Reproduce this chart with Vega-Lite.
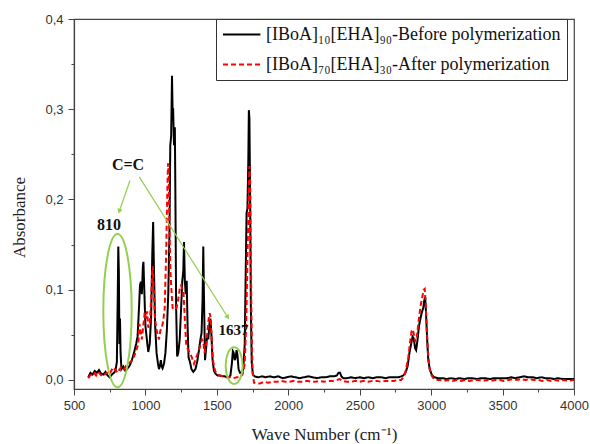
{
  "$schema": "https://vega.github.io/schema/vega-lite/v6.json",
  "width": 500,
  "height": 370,
  "autosize": {"type": "none"},
  "padding": {"left": 74, "top": 19, "right": 16, "bottom": 55},
  "background": "white",
  "config": {
    "view": {"stroke": "#444", "strokeWidth": 1.2},
    "axis": {"grid": false, "domainColor": "#444", "tickColor": "#444", "domainWidth": 1.2, "labelFont": "Liberation Sans", "labelFontSize": 13, "labelColor": "#333", "titleFont": "Liberation Serif", "titleFontSize": 17, "titleFontWeight": "normal", "titleColor": "#222"}
  },
  "data": {"values": [
    {"s":"a","x":600,"y":0.003},{"s":"a","x":615,"y":0.008},{"s":"a","x":630,"y":0.006},{"s":"a","x":645,"y":0.010},{"s":"a","x":660,"y":0.008},{"s":"a","x":675,"y":0.011},{"s":"a","x":690,"y":0.007},{"s":"a","x":705,"y":0.006},{"s":"a","x":720,"y":0.009},{"s":"a","x":735,"y":0.005},{"s":"a","x":750,"y":0.003},{"s":"a","x":765,"y":0.006},{"s":"a","x":780,"y":0.008},{"s":"a","x":790,"y":0.010},{"s":"a","x":800,"y":0.020},{"s":"a","x":806,"y":0.090},{"s":"a","x":810,"y":0.148},{"s":"a","x":814,"y":0.120},{"s":"a","x":818,"y":0.040},{"s":"a","x":822,"y":0.068},{"s":"a","x":826,"y":0.030},{"s":"a","x":832,"y":0.012},{"s":"a","x":845,"y":0.015},{"s":"a","x":860,"y":0.010},{"s":"a","x":875,"y":0.013},{"s":"a","x":890,"y":0.016},{"s":"a","x":905,"y":0.022},{"s":"a","x":920,"y":0.030},{"s":"a","x":935,"y":0.040},{"s":"a","x":945,"y":0.048},{"s":"a","x":955,"y":0.080},{"s":"a","x":962,"y":0.105},{"s":"a","x":968,"y":0.109},{"s":"a","x":975,"y":0.095},{"s":"a","x":982,"y":0.125},{"s":"a","x":986,"y":0.131},{"s":"a","x":992,"y":0.100},{"s":"a","x":1000,"y":0.060},{"s":"a","x":1010,"y":0.045},{"s":"a","x":1020,"y":0.031},{"s":"a","x":1030,"y":0.040},{"s":"a","x":1040,"y":0.070},{"s":"a","x":1048,"y":0.140},{"s":"a","x":1054,"y":0.175},{"s":"a","x":1060,"y":0.120},{"s":"a","x":1068,"y":0.060},{"s":"a","x":1078,"y":0.030},{"s":"a","x":1088,"y":0.018},{"s":"a","x":1095,"y":0.012},{"s":"a","x":1102,"y":0.016},{"s":"a","x":1108,"y":0.022},{"s":"a","x":1114,"y":0.015},{"s":"a","x":1120,"y":0.013},{"s":"a","x":1130,"y":0.018},{"s":"a","x":1140,"y":0.030},{"s":"a","x":1150,"y":0.055},{"s":"a","x":1160,"y":0.096},{"s":"a","x":1168,"y":0.160},{"s":"a","x":1174,"y":0.260},{"s":"a","x":1180,"y":0.270},{"s":"a","x":1186,"y":0.337},{"s":"a","x":1190,"y":0.300},{"s":"a","x":1194,"y":0.300},{"s":"a","x":1200,"y":0.260},{"s":"a","x":1206,"y":0.280},{"s":"a","x":1210,"y":0.200},{"s":"a","x":1215,"y":0.080},{"s":"a","x":1222,"y":0.026},{"s":"a","x":1230,"y":0.030},{"s":"a","x":1240,"y":0.045},{"s":"a","x":1250,"y":0.080},{"s":"a","x":1258,"y":0.110},{"s":"a","x":1265,"y":0.120},{"s":"a","x":1270,"y":0.153},{"s":"a","x":1276,"y":0.110},{"s":"a","x":1282,"y":0.095},{"s":"a","x":1289,"y":0.110},{"s":"a","x":1295,"y":0.060},{"s":"a","x":1302,"y":0.025},{"s":"a","x":1312,"y":0.020},{"s":"a","x":1322,"y":0.012},{"s":"a","x":1335,"y":0.009},{"s":"a","x":1350,"y":0.012},{"s":"a","x":1362,"y":0.020},{"s":"a","x":1372,"y":0.030},{"s":"a","x":1385,"y":0.045},{"s":"a","x":1393,"y":0.052},{"s":"a","x":1400,"y":0.090},{"s":"a","x":1405,"y":0.148},{"s":"a","x":1410,"y":0.090},{"s":"a","x":1417,"y":0.022},{"s":"a","x":1425,"y":0.035},{"s":"a","x":1432,"y":0.050},{"s":"a","x":1440,"y":0.045},{"s":"a","x":1448,"y":0.062},{"s":"a","x":1455,"y":0.068},{"s":"a","x":1462,"y":0.050},{"s":"a","x":1470,"y":0.022},{"s":"a","x":1480,"y":0.010},{"s":"a","x":1490,"y":0.007},{"s":"a","x":1505,"y":0.005},{"s":"a","x":1520,"y":0.005},{"s":"a","x":1540,"y":0.004},{"s":"a","x":1555,"y":0.004},{"s":"a","x":1570,"y":0.003},{"s":"a","x":1585,"y":0.003},{"s":"a","x":1595,"y":0.005},{"s":"a","x":1605,"y":0.018},{"s":"a","x":1612,"y":0.032},{"s":"a","x":1618,"y":0.030},{"s":"a","x":1625,"y":0.022},{"s":"a","x":1632,"y":0.025},{"s":"a","x":1638,"y":0.033},{"s":"a","x":1644,"y":0.028},{"s":"a","x":1652,"y":0.012},{"s":"a","x":1662,"y":0.008},{"s":"a","x":1675,"y":0.008},{"s":"a","x":1685,"y":0.012},{"s":"a","x":1695,"y":0.040},{"s":"a","x":1702,"y":0.120},{"s":"a","x":1708,"y":0.185},{"s":"a","x":1714,"y":0.190},{"s":"a","x":1720,"y":0.240},{"s":"a","x":1724,"y":0.299},{"s":"a","x":1728,"y":0.290},{"s":"a","x":1733,"y":0.200},{"s":"a","x":1738,"y":0.080},{"s":"a","x":1744,"y":0.020},{"s":"a","x":1752,"y":0.006},{"s":"a","x":1765,"y":0.004},{"s":"a","x":1790,"y":0.003},{"s":"a","x":1815,"y":0.004},{"s":"a","x":1840,"y":0.003},{"s":"a","x":1870,"y":0.004},{"s":"a","x":1900,"y":0.003},{"s":"a","x":1930,"y":0.004},{"s":"a","x":1960,"y":0.002},{"s":"a","x":1990,"y":0.003},{"s":"a","x":2020,"y":0.004},{"s":"a","x":2050,"y":0.003},{"s":"a","x":2080,"y":0.002},{"s":"a","x":2110,"y":0.003},{"s":"a","x":2140,"y":0.004},{"s":"a","x":2170,"y":0.003},{"s":"a","x":2200,"y":0.002},{"s":"a","x":2230,"y":0.003},{"s":"a","x":2260,"y":0.003},{"s":"a","x":2290,"y":0.004},{"s":"a","x":2320,"y":0.004},{"s":"a","x":2340,"y":0.005},{"s":"a","x":2352,"y":0.008},{"s":"a","x":2362,"y":0.008},{"s":"a","x":2372,"y":0.004},{"s":"a","x":2385,"y":0.002},{"s":"a","x":2410,"y":0.002},{"s":"a","x":2440,"y":0.003},{"s":"a","x":2470,"y":0.002},{"s":"a","x":2500,"y":0.003},{"s":"a","x":2530,"y":0.002},{"s":"a","x":2560,"y":0.003},{"s":"a","x":2590,"y":0.002},{"s":"a","x":2620,"y":0.003},{"s":"a","x":2650,"y":0.003},{"s":"a","x":2680,"y":0.002},{"s":"a","x":2710,"y":0.003},{"s":"a","x":2740,"y":0.003},{"s":"a","x":2770,"y":0.003},{"s":"a","x":2790,"y":0.004},{"s":"a","x":2805,"y":0.005},{"s":"a","x":2820,"y":0.008},{"s":"a","x":2835,"y":0.015},{"s":"a","x":2848,"y":0.030},{"s":"a","x":2860,"y":0.040},{"s":"a","x":2870,"y":0.048},{"s":"a","x":2878,"y":0.046},{"s":"a","x":2888,"y":0.035},{"s":"a","x":2895,"y":0.033},{"s":"a","x":2905,"y":0.045},{"s":"a","x":2915,"y":0.060},{"s":"a","x":2925,"y":0.068},{"s":"a","x":2935,"y":0.075},{"s":"a","x":2945,"y":0.080},{"s":"a","x":2952,"y":0.088},{"s":"a","x":2958,"y":0.092},{"s":"a","x":2964,"y":0.075},{"s":"a","x":2972,"y":0.045},{"s":"a","x":2980,"y":0.022},{"s":"a","x":2990,"y":0.012},{"s":"a","x":3004,"y":0.006},{"s":"a","x":3020,"y":0.003},{"s":"a","x":3050,"y":0.002},{"s":"a","x":3080,"y":0.002},{"s":"a","x":3110,"y":0.001},{"s":"a","x":3140,"y":0.002},{"s":"a","x":3170,"y":0.001},{"s":"a","x":3200,"y":0.002},{"s":"a","x":3230,"y":0.001},{"s":"a","x":3260,"y":0.002},{"s":"a","x":3290,"y":0.002},{"s":"a","x":3320,"y":0.001},{"s":"a","x":3350,"y":0.002},{"s":"a","x":3380,"y":0.002},{"s":"a","x":3410,"y":0.001},{"s":"a","x":3440,"y":0.002},{"s":"a","x":3470,"y":0.002},{"s":"a","x":3500,"y":0.002},{"s":"a","x":3530,"y":0.002},{"s":"a","x":3560,"y":0.003},{"s":"a","x":3590,"y":0.002},{"s":"a","x":3620,"y":0.003},{"s":"a","x":3650,"y":0.004},{"s":"a","x":3680,"y":0.003},{"s":"a","x":3710,"y":0.003},{"s":"a","x":3740,"y":0.002},{"s":"a","x":3770,"y":0.003},{"s":"a","x":3800,"y":0.002},{"s":"a","x":3830,"y":0.002},{"s":"a","x":3860,"y":0.001},{"s":"a","x":3890,"y":0.002},{"s":"a","x":3920,"y":0.001},{"s":"a","x":3950,"y":0.001},{"s":"a","x":3980,"y":0.001},{"s":"a","x":4000,"y":0.001},
    {"s":"b","x":600,"y":0.002},{"s":"b","x":612,"y":0.005},{"s":"b","x":625,"y":0.006},{"s":"b","x":640,"y":0.008},{"s":"b","x":655,"y":0.005},{"s":"b","x":670,"y":0.009},{"s":"b","x":685,"y":0.006},{"s":"b","x":700,"y":0.004},{"s":"b","x":715,"y":0.006},{"s":"b","x":730,"y":0.008},{"s":"b","x":745,"y":0.006},{"s":"b","x":760,"y":0.010},{"s":"b","x":775,"y":0.014},{"s":"b","x":790,"y":0.011},{"s":"b","x":805,"y":0.008},{"s":"b","x":820,"y":0.012},{"s":"b","x":835,"y":0.015},{"s":"b","x":850,"y":0.012},{"s":"b","x":865,"y":0.016},{"s":"b","x":880,"y":0.018},{"s":"b","x":895,"y":0.020},{"s":"b","x":910,"y":0.022},{"s":"b","x":925,"y":0.028},{"s":"b","x":940,"y":0.035},{"s":"b","x":950,"y":0.040},{"s":"b","x":958,"y":0.062},{"s":"b","x":965,"y":0.055},{"s":"b","x":975,"y":0.045},{"s":"b","x":985,"y":0.060},{"s":"b","x":995,"y":0.075},{"s":"b","x":1005,"y":0.068},{"s":"b","x":1012,"y":0.076},{"s":"b","x":1020,"y":0.058},{"s":"b","x":1030,"y":0.062},{"s":"b","x":1040,"y":0.090},{"s":"b","x":1048,"y":0.120},{"s":"b","x":1052,"y":0.126},{"s":"b","x":1058,"y":0.100},{"s":"b","x":1066,"y":0.070},{"s":"b","x":1075,"y":0.058},{"s":"b","x":1085,"y":0.050},{"s":"b","x":1095,"y":0.045},{"s":"b","x":1105,"y":0.055},{"s":"b","x":1115,"y":0.058},{"s":"b","x":1125,"y":0.066},{"s":"b","x":1135,"y":0.080},{"s":"b","x":1145,"y":0.140},{"s":"b","x":1152,"y":0.200},{"s":"b","x":1158,"y":0.240},{"s":"b","x":1163,"y":0.230},{"s":"b","x":1168,"y":0.170},{"s":"b","x":1175,"y":0.120},{"s":"b","x":1182,"y":0.100},{"s":"b","x":1190,"y":0.080},{"s":"b","x":1198,"y":0.078},{"s":"b","x":1207,"y":0.078},{"s":"b","x":1218,"y":0.080},{"s":"b","x":1230,"y":0.090},{"s":"b","x":1242,"y":0.103},{"s":"b","x":1250,"y":0.105},{"s":"b","x":1258,"y":0.100},{"s":"b","x":1266,"y":0.098},{"s":"b","x":1275,"y":0.070},{"s":"b","x":1285,"y":0.040},{"s":"b","x":1295,"y":0.035},{"s":"b","x":1310,"y":0.030},{"s":"b","x":1325,"y":0.025},{"s":"b","x":1340,"y":0.018},{"s":"b","x":1355,"y":0.025},{"s":"b","x":1368,"y":0.030},{"s":"b","x":1382,"y":0.037},{"s":"b","x":1395,"y":0.045},{"s":"b","x":1405,"y":0.042},{"s":"b","x":1415,"y":0.030},{"s":"b","x":1425,"y":0.040},{"s":"b","x":1435,"y":0.055},{"s":"b","x":1443,"y":0.068},{"s":"b","x":1450,"y":0.074},{"s":"b","x":1457,"y":0.068},{"s":"b","x":1465,"y":0.040},{"s":"b","x":1475,"y":0.020},{"s":"b","x":1488,"y":0.010},{"s":"b","x":1500,"y":0.007},{"s":"b","x":1520,"y":0.005},{"s":"b","x":1545,"y":0.004},{"s":"b","x":1570,"y":0.003},{"s":"b","x":1595,"y":0.003},{"s":"b","x":1615,"y":0.002},{"s":"b","x":1640,"y":0.003},{"s":"b","x":1660,"y":0.003},{"s":"b","x":1680,"y":0.006},{"s":"b","x":1695,"y":0.018},{"s":"b","x":1705,"y":0.060},{"s":"b","x":1715,"y":0.140},{"s":"b","x":1722,"y":0.200},{"s":"b","x":1728,"y":0.237},{"s":"b","x":1733,"y":0.220},{"s":"b","x":1738,"y":0.140},{"s":"b","x":1743,"y":0.060},{"s":"b","x":1750,"y":0.010},{"s":"b","x":1760,"y":-0.003},{"s":"b","x":1780,"y":-0.004},{"s":"b","x":1800,"y":-0.004},{"s":"b","x":1830,"y":-0.002},{"s":"b","x":1860,"y":-0.003},{"s":"b","x":1890,"y":-0.002},{"s":"b","x":1920,"y":-0.002},{"s":"b","x":1950,"y":-0.001},{"s":"b","x":1980,"y":-0.002},{"s":"b","x":2010,"y":-0.002},{"s":"b","x":2040,"y":-0.001},{"s":"b","x":2070,"y":-0.002},{"s":"b","x":2100,"y":-0.002},{"s":"b","x":2130,"y":-0.001},{"s":"b","x":2160,"y":-0.002},{"s":"b","x":2190,"y":-0.002},{"s":"b","x":2220,"y":-0.001},{"s":"b","x":2250,"y":-0.002},{"s":"b","x":2280,"y":-0.001},{"s":"b","x":2310,"y":-0.001},{"s":"b","x":2340,"y":0.000},{"s":"b","x":2360,"y":0.001},{"s":"b","x":2380,"y":-0.001},{"s":"b","x":2410,"y":-0.002},{"s":"b","x":2440,"y":-0.002},{"s":"b","x":2470,"y":-0.001},{"s":"b","x":2500,"y":-0.002},{"s":"b","x":2530,"y":-0.001},{"s":"b","x":2560,"y":-0.002},{"s":"b","x":2590,"y":-0.001},{"s":"b","x":2620,"y":-0.001},{"s":"b","x":2650,"y":-0.002},{"s":"b","x":2680,"y":-0.001},{"s":"b","x":2710,"y":-0.001},{"s":"b","x":2740,"y":-0.001},{"s":"b","x":2770,"y":0.000},{"s":"b","x":2790,"y":0.000},{"s":"b","x":2810,"y":0.004},{"s":"b","x":2825,"y":0.012},{"s":"b","x":2840,"y":0.025},{"s":"b","x":2855,"y":0.045},{"s":"b","x":2863,"y":0.054},{"s":"b","x":2872,"y":0.056},{"s":"b","x":2880,"y":0.050},{"s":"b","x":2890,"y":0.042},{"s":"b","x":2900,"y":0.048},{"s":"b","x":2912,"y":0.065},{"s":"b","x":2925,"y":0.081},{"s":"b","x":2938,"y":0.092},{"s":"b","x":2948,"y":0.100},{"s":"b","x":2955,"y":0.101},{"s":"b","x":2962,"y":0.085},{"s":"b","x":2970,"y":0.055},{"s":"b","x":2978,"y":0.030},{"s":"b","x":2988,"y":0.014},{"s":"b","x":3000,"y":0.006},{"s":"b","x":3015,"y":0.002},{"s":"b","x":3030,"y":0.000},{"s":"b","x":3060,"y":0.000},{"s":"b","x":3090,"y":-0.001},{"s":"b","x":3120,"y":0.000},{"s":"b","x":3150,"y":-0.001},{"s":"b","x":3180,"y":0.000},{"s":"b","x":3210,"y":-0.001},{"s":"b","x":3240,"y":0.000},{"s":"b","x":3270,"y":-0.001},{"s":"b","x":3300,"y":0.000},{"s":"b","x":3330,"y":0.000},{"s":"b","x":3360,"y":-0.001},{"s":"b","x":3390,"y":0.000},{"s":"b","x":3420,"y":-0.001},{"s":"b","x":3450,"y":0.000},{"s":"b","x":3480,"y":0.000},{"s":"b","x":3510,"y":-0.001},{"s":"b","x":3540,"y":0.000},{"s":"b","x":3570,"y":0.001},{"s":"b","x":3600,"y":0.000},{"s":"b","x":3630,"y":0.001},{"s":"b","x":3660,"y":0.000},{"s":"b","x":3690,"y":0.001},{"s":"b","x":3720,"y":0.000},{"s":"b","x":3750,"y":0.000},{"s":"b","x":3780,"y":-0.001},{"s":"b","x":3810,"y":0.000},{"s":"b","x":3840,"y":-0.001},{"s":"b","x":3870,"y":0.000},{"s":"b","x":3900,"y":-0.001},{"s":"b","x":3930,"y":0.000},{"s":"b","x":3960,"y":-0.001},{"s":"b","x":4000,"y":0.000}
  ]},
  "encoding": {
    "x": {"field": "x", "type": "quantitative", "scale": {"domain": [500, 4000], "nice": false, "zero": false},
      "axis": {"title": "Wave Number (cm⁻¹)", "values": [500,750,1000,1250,1500,1750,2000,2250,2500,2750,3000,3250,3500,3750,4000],
        "labelExpr": "datum.value % 500 == 0 ? format(datum.value, 'd') : ''",
        "tickSize": {"condition": {"test": "datum.value % 500 == 0", "value": 6}, "value": 3},
        "labelPadding": 4, "titlePadding": 14, "labelFlush": false, "labelOverlap": false}},
    "y": {"field": "y", "type": "quantitative", "scale": {"domain": [-0.01, 0.4], "nice": false, "zero": false},
      "axis": {"title": "Absorbance", "values": [0,0.05,0.1,0.15,0.2,0.25,0.3,0.35,0.4],
        "labelExpr": "abs(datum.value*10 - round(datum.value*10)) < 0.001 ? replace(format(datum.value, '.1f'), '.', ',') : ''",
        "tickSize": {"condition": {"test": "abs(datum.value*10 - round(datum.value*10)) < 0.001", "value": 6}, "value": 3},
        "labelPadding": 5, "titlePadding": 16, "titleY": 198, "labelOverlap": false}}
  },
  "layer": [
    {
      "mark": {"type": "line", "strokeWidth": 2},
      "encoding": {
        "color": {"field": "s", "type": "nominal", "scale": {"domain": ["a", "b"], "range": ["#000000", "#ff0000"]},
          "legend": {"orient": "none", "legendX": 142, "legendY": 0, "title": null, "strokeColor": "#333", "fillColor": "white", "padding": 6, "rowPadding": 11,
            "symbolType": "M-1,0H3.4", "symbolSize": 289, "symbolStrokeWidth": 2, "labelFont": "Liberation Serif", "labelFontSize": 18, "labelColor": "#111", "labelOffset": 25, "labelLimit": 400,
            "labelExpr": "datum.value == 'a' ? '[IBoA]₁₀[EHA]₉₀-Before polymerization' : '[IBoA]₇₀[EHA]₃₀-After polymerization'"}},
        "strokeDash": {"field": "s", "type": "nominal", "scale": {"domain": ["a", "b"], "range": [[1, 0], [5, 3]]}}
      }
    },
    {
      "data": {"values": [{"x": 804.5, "y": 0.0768}]},
      "mark": {"type": "point", "shape": "M-0.185,0A0.185,1 0 1,1 0.185,0A0.185,1 0 1,1 -0.185,0Z", "size": 23532, "filled": false, "stroke": "#92D050", "strokeWidth": 2, "opacity": 1}
    },
    {
      "data": {"values": [{"x": 1621, "y": 0.0159}]},
      "mark": {"type": "point", "shape": "M-0.464,0A0.464,1 0 1,1 0.464,0A0.464,1 0 1,1 -0.464,0Z", "size": 1340, "filled": false, "stroke": "#92D050", "strokeWidth": 2, "opacity": 1}
    },
    {
      "data": {"values": [{"x": 892, "y": 0.221, "x2": 817, "y2": 0.187}, {"x": 957, "y": 0.225, "x2": 1576, "y2": 0.0695}]},
      "mark": {"type": "rule", "color": "#92D050", "strokeWidth": 1.2},
      "encoding": {"x2": {"field": "x2"}, "y2": {"field": "y2"}}
    },
    {
      "data": {"values": [{"x": 817, "y": 0.187}]},
      "mark": {"type": "point", "shape": "triangle-up", "size": 30, "filled": true, "color": "#92D050", "angle": 199.5, "opacity": 1}
    },
    {
      "data": {"values": [{"x": 1576, "y": 0.0695}]},
      "mark": {"type": "point", "shape": "triangle-up", "size": 30, "filled": true, "color": "#92D050", "angle": 147.7, "opacity": 1}
    },
    {
      "data": {"values": [{"x": 878, "y": 0.238, "t": "C=C"}, {"x": 745, "y": 0.172, "t": "810"}]},
      "mark": {"type": "text", "font": "Liberation Serif", "fontWeight": "bold", "fontSize": 16, "color": "#111", "baseline": "middle", "align": "center"},
      "encoding": {"text": {"field": "t"}}
    },
    {
      "data": {"values": [{"x": 1617, "y": 0.055, "t": "1637"}]},
      "mark": {"type": "text", "font": "Liberation Serif", "fontWeight": "bold", "fontSize": 15, "color": "#111", "baseline": "middle", "align": "center"},
      "encoding": {"text": {"field": "t"}}
    }
  ]
}
